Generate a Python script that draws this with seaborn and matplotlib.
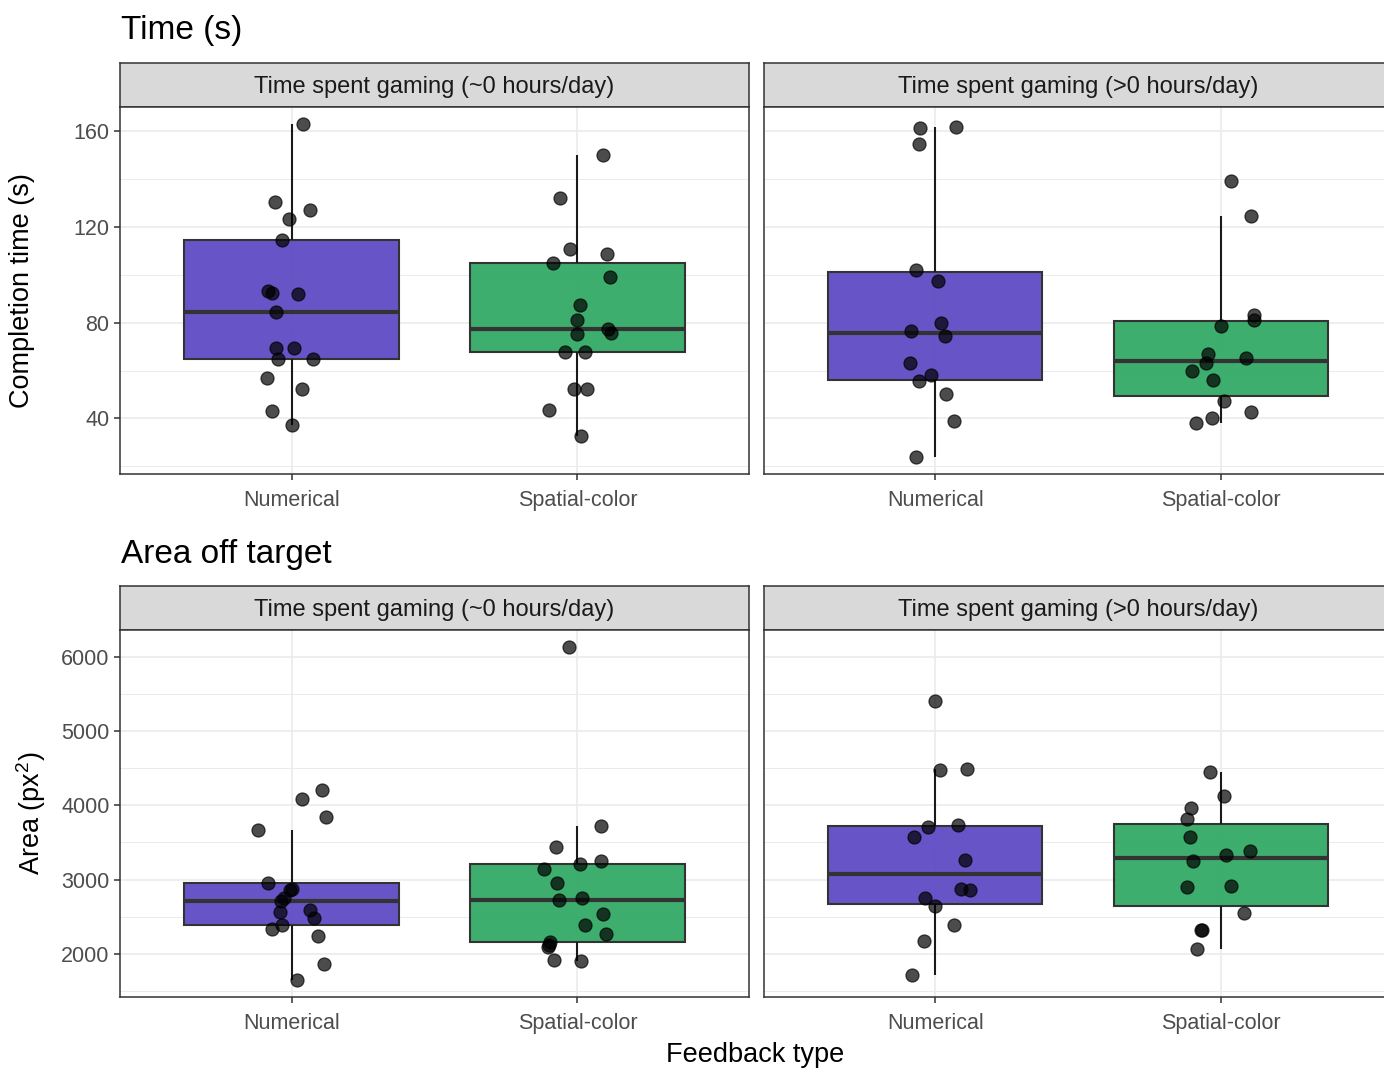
import numpy as np
import pandas as pd
import matplotlib
matplotlib.use("Agg")
import matplotlib.pyplot as plt
from matplotlib.ticker import MultipleLocator
import seaborn as sns

# ---------------------------------------------------------------- data
feedback_types = ["Numerical", "Spatial-color"]
gaming_groups = ["Time spent gaming (~0 hours/day)", "Time spent gaming (>0 hours/day)"]
row_titles = ["Time (s)", "Area off target"]
row_ylabels = ["Completion time (s)", "Area (px$^{2}$)"]
x_title = "Feedback type"

time_ticks = [40, 80, 120, 160]
area_ticks = [2000, 3000, 4000, 5000, 6000]

# Completion time (s)
time_none_numerical = [163.2, 130.3, 126.9, 123.2, 114.7, 93.3, 92.2, 91.8, 84.3,
                       69.3, 69.3, 65.0, 65.0, 56.7, 52.4, 43.1, 37.4]
time_none_spatial = [150.0, 132.2, 111.0, 108.7, 105.0, 98.9, 87.5, 81.0, 77.4,
                     75.7, 75.4, 67.6, 67.6, 52.4, 52.4, 43.5, 32.6]
time_some_numerical = [161.3, 161.9, 154.7, 102.2, 97.4, 80.0, 76.7, 74.4, 63.2,
                       58.0, 55.5, 50.0, 38.7, 23.7]
time_some_spatial = [139.3, 124.7, 83.0, 81.2, 78.6, 66.7, 63.2, 65.1, 59.9,
                     56.1, 47.2, 42.5, 40.1, 38.2]

# Area off target (px^2)
area_none_numerical = [3663, 4086, 4207, 3843, 2949, 2877, 2865, 2751, 2710,
                       2558, 2589, 2477, 2391, 2337, 2234, 1866, 1641]
area_none_spatial = [6139, 3722, 3434, 3250, 3205, 3146, 2958, 2745, 2718,
                     2535, 2387, 2265, 2158, 2120, 2090, 1919, 1897]
area_some_numerical = [5411, 4490, 4470, 3704, 3735, 3569, 3268, 2868, 2854,
                       2751, 2638, 2387, 2176, 1717]
area_some_spatial = [4454, 4130, 3969, 3816, 3569, 3384, 3326, 3250, 2904,
                     2917, 2553, 2319, 2319, 2068]

# horizontal jitter of each participant's point (category units)
jitter_none_numerical_time = [0.04, -0.058, 0.065, -0.01, -0.034, -0.083, -0.07, 0.021, -0.053,
                              -0.053, 0.008, -0.049, 0.076, -0.086, 0.036, -0.067, 0.0]
jitter_none_spatial_time = [0.091, -0.062, -0.027, 0.102, -0.086, 0.115, 0.008, 0.0, 0.108,
                            0.116, 0.0, -0.043, 0.025, -0.011, 0.032, -0.10, 0.013]
jitter_some_numerical_time = [-0.053, 0.073, -0.058, -0.069, 0.011, 0.021, -0.084, 0.035,
                              -0.089, -0.014, -0.057, 0.037, 0.065, -0.068]
jitter_some_spatial_time = [0.036, 0.107, 0.115, 0.115, 0.0, -0.043, -0.051, 0.09, -0.102,
                            -0.028, 0.012, 0.107, -0.032, -0.087]
jitter_none_numerical_area = [-0.118, 0.036, 0.107, 0.119, -0.081, 0.0, -0.005, -0.027, -0.036,
                              -0.039, 0.063, 0.08, -0.034, -0.07, 0.091, 0.115, 0.02]
jitter_none_spatial_area = [-0.031, 0.084, -0.074, 0.084, 0.008, -0.118, -0.073, 0.017, -0.065,
                            0.091, 0.028, 0.1, -0.097, -0.1, -0.102, -0.083, 0.013]
jitter_some_numerical_area = [0.0, 0.112, 0.018, -0.025, 0.08, -0.073, 0.105, 0.09, 0.12,
                              -0.035, 0.0, 0.065, -0.039, -0.082]
jitter_some_spatial_area = [-0.036, 0.011, -0.104, -0.119, -0.108, 0.102, 0.019, -0.098,
                            -0.119, 0.036, 0.083, -0.07, -0.066, -0.083]

palette = {"Numerical": "#5B48C4", "Spatial-color": "#2EA862"}

# ---------------------------------------------------------------- style
plt.rcParams["font.family"] = ["Liberation Sans", "DejaVu Sans"]
plt.rcParams["mathtext.fontset"] = "custom"
plt.rcParams["mathtext.rm"] = "Liberation Sans"
plt.rcParams["mathtext.it"] = "Liberation Sans:italic"
plt.rcParams["mathtext.default"] = "regular"

W, H = 1384, 1068
fig = plt.figure(figsize=(W / 100, H / 100), dpi=100)
fig.patch.set_facecolor("white")

BORDER = "#333333"
GRID = "#EBEBEB"


def px_axes(x0, y0, x1, y1, **kw):
    """Axes placed by pixel box (top-left origin)."""
    return fig.add_axes([x0 / W, 1 - y1 / H, (x1 - x0) / W, (y1 - y0) / H], **kw)


def draw_strip(x0, y0, x1, y1, label):
    sax = px_axes(x0, y0, x1, y1)
    sax.set_facecolor("#D9D9D9")
    sax.set_xticks([])
    sax.set_yticks([])
    for sp in sax.spines.values():
        sp.set_color(BORDER)
        sp.set_linewidth(1.1)
    sax.text(0.5, 0.46, label, ha="center", va="center", fontsize=17,
             color="#1A1A1A", transform=sax.transAxes)


def draw_panel(ax, numerical, spatial, jit_num, jit_spa, ylim, ticks, minor, show_y):
    df = pd.DataFrame({
        "feedback": ["Numerical"] * len(numerical) + ["Spatial-color"] * len(spatial),
        "value": list(numerical) + list(spatial),
    })
    sns.boxplot(data=df, x="feedback", y="value", hue="feedback",
                order=feedback_types, hue_order=feedback_types, palette=palette,
                saturation=1, width=0.75, showfliers=False, showcaps=False,
                linecolor=BORDER, linewidth=1.5,
                medianprops={"linewidth": 3.0, "color": BORDER},
                whiskerprops={"color": "#1A1A1A", "linewidth": 1.5},
                legend=False, ax=ax)
    for patch in ax.patches:
        fc = patch.get_facecolor()
        patch.set_facecolor((fc[0], fc[1], fc[2], 0.93))

    for i, (vals, jit) in enumerate([(numerical, jit_num), (spatial, jit_spa)]):
        xs = i + np.asarray(jit)
        sns.scatterplot(x=xs, y=vals, ax=ax, color="black", alpha=0.7, s=88,
                        edgecolor="black", linewidth=0.9, legend=False, zorder=4)

    ax.set_xlim(-0.6, 1.6)
    ax.set_ylim(*ylim)
    ax.set_xticks([0, 1])
    ax.set_xticklabels(feedback_types)
    ax.set_yticks(ticks)
    ax.yaxis.set_minor_locator(MultipleLocator(minor))
    ax.set_xlabel("")
    ax.set_ylabel("")
    ax.set_facecolor("white")
    ax.set_axisbelow(True)
    ax.grid(which="major", color=GRID, linewidth=1.2)
    ax.grid(which="minor", axis="y", color=GRID, linewidth=0.7)
    for sp in ax.spines.values():
        sp.set_visible(True)
        sp.set_color(BORDER)
        sp.set_linewidth(1.1)
    ax.tick_params(axis="both", which="major", length=4.5, width=1.1, color=BORDER,
                   labelsize=15.5, labelcolor="#4D4D4D", pad=3)
    ax.tick_params(axis="x", which="major", pad=7)
    ax.tick_params(axis="y", which="minor", length=0)
    if not show_y:
        ax.tick_params(axis="y", which="major", left=False, labelleft=False)


def padded(*groups):
    vals = np.concatenate([np.asarray(g, dtype=float) for g in groups])
    lo, hi = vals.min(), vals.max()
    pad = 0.05 * (hi - lo)
    return lo - pad, hi + pad


rows = [
    dict(groups=[(time_none_numerical, time_none_spatial,
                  jitter_none_numerical_time, jitter_none_spatial_time),
                 (time_some_numerical, time_some_spatial,
                  jitter_some_numerical_time, jitter_some_spatial_time)],
         ticks=time_ticks, minor=20, strip=(63, 107), panel=(107, 474),
         title_y=31, ylabel_x=22),
    dict(groups=[(area_none_numerical, area_none_spatial,
                  jitter_none_numerical_area, jitter_none_spatial_area),
                 (area_some_numerical, area_some_spatial,
                  jitter_some_numerical_area, jitter_some_spatial_area)],
         ticks=area_ticks, minor=500, strip=(586, 630), panel=(630, 997),
         title_y=554, ylabel_x=31),
]
# the right-hand column runs past the canvas edge
columns = [(120, 749), (764, 1392)]

for r, row in enumerate(rows):
    ylim = padded(*[g[0] for g in row["groups"]], *[g[1] for g in row["groups"]])
    for c, (x0, x1) in enumerate(columns):
        num, spa, jn, js = row["groups"][c]
        draw_strip(x0, row["strip"][0], x1, row["strip"][1], gaming_groups[c])
        ax = px_axes(x0, row["panel"][0], x1, row["panel"][1])
        draw_panel(ax, num, spa, jn, js, ylim, row["ticks"], row["minor"], show_y=(c == 0))
    fig.text(121 / W, 1 - row["title_y"] / H, row_titles[r], fontsize=24,
             ha="left", va="center", color="black")
    mid = (row["panel"][0] + row["panel"][1]) / 2
    fig.text(row["ylabel_x"] / W, 1 - mid / H, row_ylabels[r], fontsize=19.5,
             rotation=90, ha="center", va="center", color="black")

fig.text(755 / W, 1 - 1055 / H, x_title, fontsize=19.5, ha="center", va="center",
         color="black")

fig.savefig("out.png", dpi=100)
